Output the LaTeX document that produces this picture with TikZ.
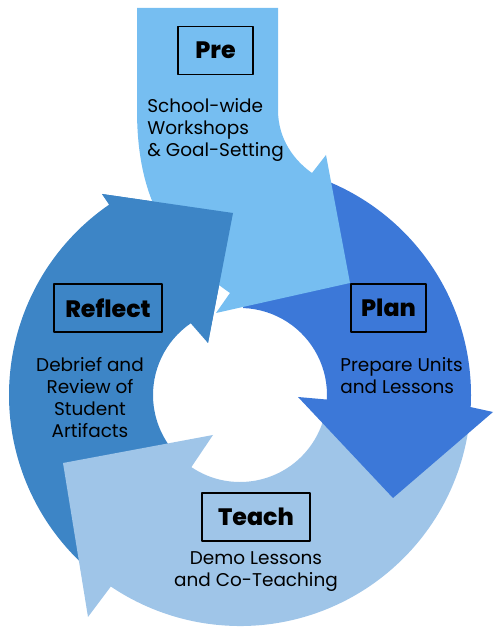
\documentclass[tikz,border=0pt]{standalone}
\usepackage{fontspec}
\setmainfont{Poppins}[BoldFont={Poppins ExtraBold}]
\usetikzlibrary{calc}
\definecolor{precol}{RGB}{118,190,241}
\definecolor{plancol}{RGB}{60,120,216}
\definecolor{teachcol}{RGB}{159,197,232}
\definecolor{reflectcol}{RGB}{61,133,198}
\begin{document}
\begin{tikzpicture}[x=0.02cm, y=0.02cm, line join=round,
	stage/.style={draw, line width=1.1pt, font=\bfseries\fontsize{13.5}{16}\selectfont, minimum height=0.96cm, minimum width=1.5cm, inner sep=0pt},
	wide/.style={minimum width=2.16cm},
	note/.style={font=\fontsize{10.5}{12.5}\selectfont, inner sep=0pt}]
	\useasboundingbox (0,0) rectangle (500,635);
	\coordinate (O) at (240,240);
	\coordinate (rb1) at (102,441); \coordinate (rtip) at (233,422); \coordinate (rb2) at (208,292);

	\fill[reflectcol] ($(O)+(230:231)$) arc[start angle=230, end angle=124.5, radius=231] -- (rb1) -- (rtip) -- (rb2) -- ($(O)+(124.5:87)$) arc[start angle=124.5, end angle=230, radius=87] -- cycle;
	\fill[teachcol] ($(O)+(-8:231)$) arc[start angle=-8, end angle=-124, radius=231] -- (88,18) -- (63,172) -- (213,200) -- ($(O)+(-124:87)$) arc[start angle=-124, end angle=-8, radius=87] -- cycle;
	\fill[plancol] ($(O)+(88:231)$) arc[start angle=88, end angle=-3, radius=231] -- (493,223) -- (393,137) -- (298,238) -- ($(O)+(-3:87)$) arc[start angle=-3, end angle=88, radius=87] -- cycle;
	\fill[precol] (137,627) -- (278,627) -- (278,525) .. controls (278,495) and (295,474) .. (312,462) -- (326,480) -- (350,352) -- (216,322) -- (230,342) .. controls (165,387) and (137,440) .. (137,525) -- cycle;
	\fill[reflectcol] (rb1) -- (rtip) -- (rb2) -- cycle;

	\path
	(215.5,584.5) node[stage] (pre) {Pre}
	(147,505) node[note, anchor=west, align=left] (pretext) {School-wide\\Workshops\\\& Goal-Setting}
	(388.5,327) node[stage] (plan) {Plan}
	(340,259) node[note, anchor=west, align=left] (plantext) {Prepare Units\\and Lessons}
	(256,118) node[stage, wide] (teach) {Teach}
	(256,63) node[note, align=center] (teachtext) {Demo Lessons\\and Co-Teaching}
	(108,327) node[stage, wide] (reflect) {Reflect}
	(90,237.5) node[note, align=center] (reflecttext) {Debrief and\\Review of\\Student\\Artifacts};
\end{tikzpicture}
\end{document}
